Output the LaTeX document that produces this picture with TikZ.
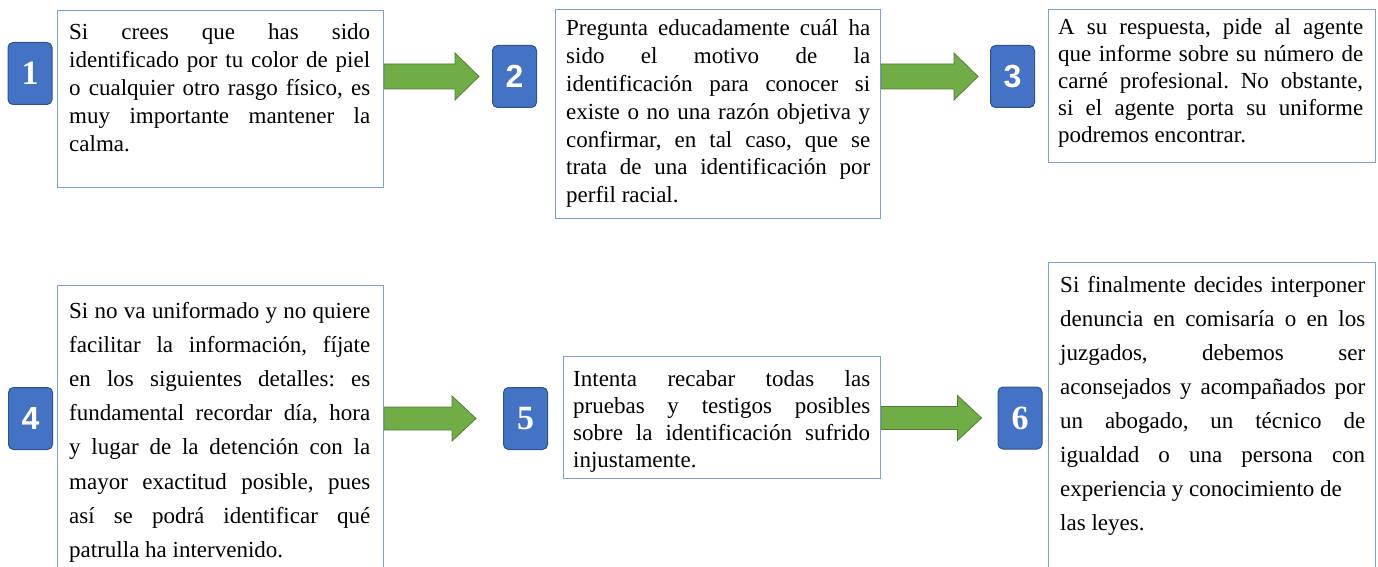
\documentclass[tikz,border=0pt]{standalone}
\usepackage{fontspec}
\setmainfont{Liberation Serif}
\newfontfamily\numsans{Liberation Sans}
\usetikzlibrary{calc}
\definecolor{badgefill}{RGB}{68,114,196}
\definecolor{badgeedge}{RGB}{47,82,143}
\definecolor{boxedge}{RGB}{125,160,205}
\definecolor{arrowfill}{RGB}{112,173,71}
\definecolor{arrowedge}{RGB}{80,126,50}
\tolerance=10000
\hyphenpenalty=10000
\frenchspacing
\tikzset{
  stepbox/.style={draw=boxedge, line width=1.3pt, fill=white, anchor=north west, inner sep=0pt},
  badge/.style={draw=badgeedge, line width=1pt, fill=badgefill, rounded corners=5pt,
    minimum width=44pt, minimum height=62pt, inner sep=0pt, text=white},
  serifnum/.style={font=\fontsize{34}{34}\selectfont\bfseries},
  sansnum/.style={font=\fontsize{32}{32}\selectfont\numsans\bfseries},
  txt/.style={anchor=base west, inner sep=0pt, align=justify, text width=#1,
    font=\fontsize{23}{28}\selectfont},
  barrow/.style={fill=arrowfill, draw=arrowedge, line width=0.8pt, line join=miter}
}
\newcommand\blockarrow[4]{% #1 start coordinate, #2 end coordinate, #3 shaft half, #4 head half
  \draw[barrow] let \p1=(#1), \p2=(#2) in
    (\x1,\y1+#3) -- (\x2-24pt,\y1+#3) -- (\x2-24pt,\y1+#4) -- (\x2,\y1)
    -- (\x2-24pt,\y1-#4) -- (\x2-24pt,\y1-#3) -- (\x1,\y1-#3) -- cycle;
}
\begin{document}
\begin{tikzpicture}[x=1pt,y=-1pt]
\clip (0,0) rectangle (1378,567);
\fill[white] (0,0) rectangle (1378,567);

% boxes
\node[stepbox, minimum width=326pt, minimum height=177pt] (b1) at (57,10) {};
\node[stepbox, minimum width=325pt, minimum height=209pt] (b2) at (555,9) {};
\node[stepbox, minimum width=327pt, minimum height=153pt] (b3) at (1048,9) {};
\node[stepbox, minimum width=326pt, minimum height=300pt] (b4) at (57,285) {};
\node[stepbox, minimum width=317pt, minimum height=122pt] (b5) at (563,356) {};
\node[stepbox, minimum width=327pt, minimum height=320pt] (b6) at (1048,262) {};

% texts
\node[txt=301pt] (t1) at (69,40) {Si crees que has sido\linebreak identificado por tu color de piel\linebreak o cualquier otro rasgo físico, es\linebreak muy importante mantener la\linebreak calma.};
\node[txt=304pt, font=\fontsize{23}{27.8}\selectfont] (t2) at (566,36) {Pregunta educadamente cuál ha\linebreak sido el motivo de la\linebreak identificación para conocer si\linebreak existe o no una razón objetiva y\linebreak confirmar, en tal caso, que se\linebreak trata de una identificación por\linebreak perfil racial.};
\node[txt=305pt, font=\fontsize{23}{27}\selectfont] (t3) at (1058,35) {A su respuesta, pide al agente\linebreak que informe sobre su número de\linebreak carné profesional. No obstante,\linebreak si el agente porta su uniforme\linebreak podremos encontrar.};
\node[txt=301pt, font=\fontsize{23}{34.2}\selectfont] (t4) at (69,318) {Si no va uniformado y no quiere\linebreak facilitar la información, fíjate\linebreak en los siguientes detalles: es\linebreak fundamental recordar día, hora\linebreak y lugar de la detención con la\linebreak mayor exactitud posible, pues\linebreak así se podrá identificar qué\linebreak patrulla ha intervenido.};
\node[txt=297pt, font=\fontsize{23}{27}\selectfont] (t5) at (573,386) {Intenta recabar todas las\linebreak pruebas y testigos posibles\linebreak sobre la identificación sufrido\linebreak injustamente.};
\node[txt=305pt, font=\fontsize{23}{34}\selectfont] (t6) at (1060,292) {Si finalmente decides interponer\linebreak denuncia en comisaría o en los\linebreak juzgados, debemos ser\linebreak aconsejados y acompañados por\linebreak un abogado, un técnico de\linebreak igualdad o una persona con\linebreak experiencia y conocimiento de\\ las leyes.};

% badges
\node[badge, serifnum] (n1) at (30,73.5) {1};
\node[badge, sansnum] (n2) at (514.5,76.5) {2};
\node[badge, sansnum] (n3) at (1012.5,76.5) {3};
\node[badge, sansnum] (n4) at (30.5,418.5) {4};
\node[badge, serifnum] (n5) at (525.5,418.5) {5};
\node[badge, serifnum] (n6) at (1020,418) {6};

% arrows
\coordinate (a1s) at (b1.east |- n2.west);
\coordinate (a1e) at ($(n2.west)+(-13,0)$);
\coordinate (a2s) at (b2.east |- n3.west);
\coordinate (a2e) at ($(n3.west)+(-12,0)$);
\coordinate (a4s) at (b4.east |- n5.west);
\coordinate (a4e) at ($(n5.west)+(-27,0)$);
\coordinate (a5s) at (b5.east |- n6.west);
\coordinate (a5e) at ($(n6.west)+(-16,0)$);
\blockarrow{a1s}{a1e}{12.5pt}{23.5pt}
\blockarrow{a2s}{a2e}{12.5pt}{23.5pt}
\blockarrow{a4s}{a4e}{11.5pt}{22.5pt}
\blockarrow{a5s}{a5e}{11.5pt}{22.5pt}
\end{tikzpicture}
\end{document}
